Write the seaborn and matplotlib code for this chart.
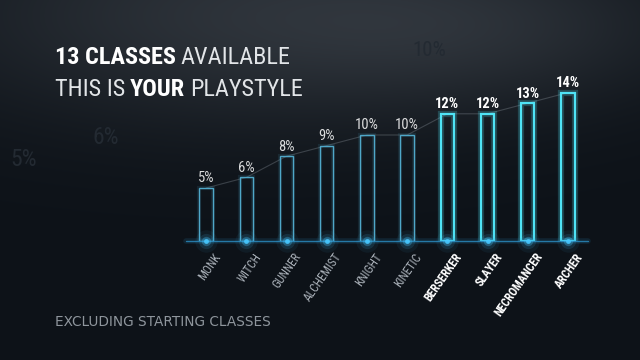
import numpy as np
import pandas as pd
import matplotlib
matplotlib.use("Agg")
import matplotlib.pyplot as plt
import matplotlib.patheffects as pe
from matplotlib import font_manager as fm
import seaborn as sns

# ---- data ----
classes = ["MONK", "WITCH", "GUNNER", "ALCHEMIST", "KNIGHT", "KINETIC",
           "BERSERKER", "SLAYER", "NECROMANCER", "ARCHER"]
shares = [5, 6, 8, 9, 10, 10, 12, 12, 13, 14]
highlight = [False] * 6 + [True] * 4
title_bold_1, title_light_1 = "13 CLASSES", "AVAILABLE"
title_light_2a, title_bold_2, title_light_2b = "THIS IS", "YOUR", "PLAYSTYLE"
footer = "EXCLUDING STARTING CLASSES"

df = pd.DataFrame({"cls": classes, "share": shares})

# ---- pick a narrow font if one is installed ----
names = {f.name for f in fm.fontManager.ttflist}
narrow_family, narrow_stretch = "DejaVu Sans", "normal"
for cand in ["Roboto Condensed", "Liberation Sans Narrow", "Open Sans Condensed",
             "Noto Sans Condensed", "DejaVu Sans Condensed"]:
    if cand in names:
        narrow_family = cand
        break
else:
    if any(f.name == "DejaVu Sans" and f.stretch in ("condensed", "semi-condensed", 75, 87.5)
           for f in fm.fontManager.ttflist):
        narrow_stretch = "condensed"
    else:
        for f in fm.fontManager.ttflist:
            if f.stretch in ("condensed", "semi-condensed", "extra-condensed"):
                narrow_family, narrow_stretch = f.name, f.stretch
                break
FONT = dict(family=[narrow_family, "DejaVu Sans"], stretch=narrow_stretch)

W, H = 640, 360
sns.set_theme(style="dark")
plt.rcParams["font.family"] = [narrow_family, "DejaVu Sans"]

fig = plt.figure(figsize=(W / 100, H / 100), dpi=100)
fig.patch.set_facecolor("#0e1319")

# ---- background gradient ----
bg = fig.add_axes([0, 0, 1, 1], zorder=-10)
yy, xx = np.mgrid[0:H, 0:W]
base = np.array([0x0d, 0x12, 0x18]) / 255.0
glow = np.exp(-((xx - 260) / 330.0) ** 2 - ((yy - 15) / 110.0) ** 2)
glow2 = np.exp(-((xx - 500) / 200.0) ** 2 - ((yy - 30) / 70.0) ** 2)
img = base[None, None, :] + (0.12 * glow + 0.05 * glow2)[..., None] * np.array([1.0, 1.02, 1.05])
img = np.clip(img, 0, 1)
bg.imshow(img, aspect="auto", extent=[0, W, H, 0])
bg.set_xlim(0, W)
bg.set_ylim(H, 0)
bg.axis("off")
# faint background figures
for txt, x, y, s in [("5%", 10, 166, 17), ("6%", 92, 144, 17), ("10%", 412, 56, 15)]:
    bg.text(x, y, txt, color="#232a32", fontsize=s, va="baseline", **FONT)

# ---- main axes ----
left_px, right_px = 186, 588
base_px, top_px = 241, 82
ax = fig.add_axes([left_px / W, (H - base_px) / H,
                   (right_px - left_px) / W, (base_px - top_px) / H])
ax.set_facecolor("none")

pal = ["#4fa7c8" if not h else "#4fe3f5" for h in highlight]
sns.barplot(data=df, x="cls", y="share", hue="cls", palette=pal, legend=False,
            fill=False, width=0.33, linewidth=1.0, ax=ax)
for p, h, c in zip(ax.patches, highlight, pal):
    p.set_edgecolor(c)
    if h:
        p.set_linewidth(1.6)
        p.set_path_effects([pe.Stroke(linewidth=4.5, foreground=c, alpha=0.22),
                            pe.Normal()])
    else:
        p.set_linewidth(1.0)
        p.set_path_effects([pe.Stroke(linewidth=3, foreground=c, alpha=0.12),
                            pe.Normal()])

# faint line connecting tops
sns.lineplot(x=np.arange(len(shares)), y=shares, color="#9aa4ae", alpha=0.3,
             linewidth=0.8, ax=ax, zorder=0)

ax.set_xlim(-0.5, len(classes) - 0.5)
ax.set_ylim(0, 15)
ax.set_xlabel("")
ax.set_ylabel("")
ax.set_xticks([])
ax.set_yticks([])
for s in ax.spines.values():
    s.set_visible(False)
ax.grid(False)

# baseline glow line
ax.axhline(0, color="#2b8fc4", linewidth=1.0, alpha=0.8, clip_on=False)
ax.axhline(0, color="#2b8fc4", linewidth=4, alpha=0.15, clip_on=False)
# glowing dots at base
xs = np.arange(len(classes))
for sz, a in [(260, 0.06), (120, 0.12), (45, 0.3), (12, 0.9)]:
    ax.scatter(xs, [0] * len(xs), s=sz, color="#48c8ff", alpha=a,
               marker="o", linewidths=0, clip_on=False, zorder=5)

# value labels
for i, (v, h) in enumerate(zip(shares, highlight)):
    ax.text(i, v + 0.25, f"{v}%", ha="center", va="bottom", color="white",
            fontsize=10.5, fontweight="bold" if h else "normal",
            alpha=1.0 if h else 0.85, **FONT)

# category labels (rotated)
for i, (c, h) in enumerate(zip(classes, highlight)):
    ax.annotate(c, xy=(i, 0), xytext=(5, -7), textcoords="offset points",
                ha="right", va="top", rotation=55, rotation_mode="anchor",
                color="white" if h else "#a9b0b8", fontsize=8.5,
                fontweight="bold" if h else "normal", **FONT)

# ---- titles ----
fig.canvas.draw()
renderer = fig.canvas.get_renderer()

def fx(x):
    return x / W

def fy(y):
    return 1 - y / H

def run(pieces, x0, y0, size):
    x = x0
    for txt, bold in pieces:
        t = fig.text(fx(x), fy(y0), txt, fontsize=size, color="white" if bold else "#e2e5e8",
                     fontweight="bold" if bold else "normal", va="baseline", ha="left",
                     **FONT)
        bb = t.get_window_extent(renderer)
        x = bb.x1 + size * 0.28

run([(title_bold_1, True), (title_light_1, False)], 55, 64, 17.5)
run([(title_light_2a, False), (title_bold_2, True), (title_light_2b, False)], 55, 96, 17.5)

fig.text(fx(55), fy(326), footer, fontsize=9.8, color="#8f969d",
         family="DejaVu Sans", va="baseline", ha="left")

fig.savefig("out.png", dpi=100, facecolor=fig.get_facecolor())
